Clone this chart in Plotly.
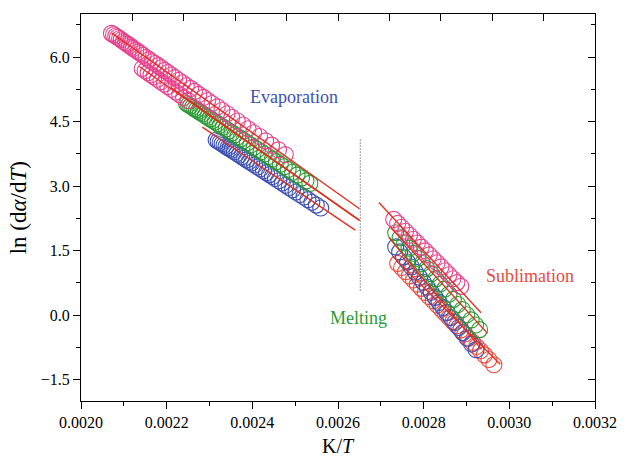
import plotly.graph_objects as go

# ---------------- data (K/T, ln(dα/dT)) ----------------
evap_pink_x = [0.002071, 0.002076, 0.002081, 0.002085, 0.002090, 0.002094, 0.002099, 0.002104,
               0.002108, 0.002113, 0.002118, 0.002122, 0.002128, 0.002134, 0.002139, 0.002145,
               0.002152, 0.002159, 0.002166, 0.002173, 0.002180, 0.002187, 0.002195, 0.002203,
               0.002211, 0.002219, 0.002228, 0.002237, 0.002246, 0.002256, 0.002265, 0.002275,
               0.002286, 0.002296, 0.002306, 0.002318, 0.002329, 0.002341, 0.002352, 0.002365,
               0.002378, 0.002390, 0.002403, 0.002417, 0.002431, 0.002445, 0.002461, 0.002477]
evap_pink_y = [6.55, 6.52, 6.49, 6.46, 6.43, 6.40, 6.36, 6.33, 6.30, 6.27, 6.23, 6.20,
               6.16, 6.12, 6.08, 6.04, 5.99, 5.94, 5.89, 5.85, 5.80, 5.75, 5.69, 5.64,
               5.58, 5.52, 5.46, 5.40, 5.33, 5.27, 5.20, 5.13, 5.06, 4.99, 4.92, 4.84,
               4.76, 4.68, 4.60, 4.51, 4.42, 4.33, 4.24, 4.15, 4.05, 3.95, 3.84, 3.73]

evap_pink2_x = [0.0021428, 0.0021497, 0.0021566, 0.0021635, 0.0021704, 0.0021785, 0.0021866,
                0.0021946, 0.0022027, 0.0022119, 0.0022211, 0.0022303, 0.0022395, 0.0022499]
evap_pink2_y = [5.731, 5.683, 5.635, 5.587, 5.539, 5.483, 5.427, 5.371, 5.315, 5.251,
                5.186, 5.122, 5.058, 4.986]

evap_green_x = [0.0022464, 0.0022510, 0.0022557, 0.0022603, 0.0022649, 0.0022695, 0.0022741,
                0.0022787, 0.0022845, 0.0022902, 0.0022960, 0.0023017, 0.0023075, 0.0023133,
                0.0023190, 0.0023248, 0.0023317, 0.0023386, 0.0023455, 0.0023524, 0.0023593,
                0.0023662, 0.0023731, 0.0023800, 0.0023881, 0.0023962, 0.0024042, 0.0024123,
                0.0024203, 0.0024284, 0.0024376, 0.0024468, 0.0024560, 0.0024653, 0.0024745,
                0.0024837, 0.0024940, 0.0025044, 0.0025148, 0.0025251, 0.0025343]
evap_green_y = [4.919, 4.890, 4.860, 4.830, 4.800, 4.771, 4.741, 4.711, 4.674, 4.637, 4.600,
                4.562, 4.525, 4.488, 4.451, 4.414, 4.369, 4.324, 4.280, 4.235, 4.191, 4.146,
                4.101, 4.057, 4.005, 3.953, 3.901, 3.849, 3.796, 3.744, 3.685, 3.625, 3.566,
                3.506, 3.447, 3.387, 3.320, 3.253, 3.186, 3.119, 3.060]

evap_blue_x = [0.0023155, 0.0023201, 0.0023247, 0.0023293, 0.0023339, 0.0023385, 0.0023432,
               0.0023478, 0.0023524, 0.0023581, 0.0023639, 0.0023696, 0.0023754, 0.0023811,
               0.0023869, 0.0023927, 0.0023984, 0.0024053, 0.0024122, 0.0024191, 0.0024261,
               0.0024330, 0.0024399, 0.0024468, 0.0024537, 0.0024618, 0.0024698, 0.0024779,
               0.0024859, 0.0024940, 0.0025020, 0.0025112, 0.0025205, 0.0025297, 0.0025389,
               0.0025493, 0.0025596]
evap_blue_y = [4.071, 4.041, 4.011, 3.982, 3.952, 3.922, 3.892, 3.862, 3.832, 3.795, 3.758,
               3.720, 3.683, 3.646, 3.608, 3.571, 3.534, 3.489, 3.444, 3.400, 3.355, 3.310,
               3.265, 3.220, 3.176, 3.123, 3.071, 3.019, 2.966, 2.914, 2.862, 2.802, 2.743,
               2.683, 2.623, 2.556, 2.489]

sub_pink_x = [0.0027301, 0.0027393, 0.0027485, 0.0027577, 0.0027669, 0.0027762, 0.0027854,
              0.0027946, 0.0028038, 0.0028130, 0.0028222, 0.0028314, 0.0028406, 0.0028498,
              0.0028591, 0.0028683, 0.0028775, 0.0028867]
sub_pink_y = [2.223, 2.130, 2.040, 1.949, 1.856, 1.763, 1.675, 1.579, 1.491, 1.398, 1.307,
              1.214, 1.119, 1.028, 0.937, 0.842, 0.754, 0.666]

sub_green_x = [0.0027347, 0.0027451, 0.0027555, 0.0027658, 0.0027762, 0.0027865, 0.0027969,
               0.0028073, 0.0028176, 0.0028280, 0.0028384, 0.0028487, 0.0028591, 0.0028695,
               0.0028798, 0.0028902, 0.0029006, 0.0029109, 0.0029213, 0.0029305]
sub_green_y = [1.914, 1.795, 1.676, 1.556, 1.437, 1.318, 1.198, 1.079, 0.960, 0.841, 0.721,
               0.602, 0.483, 0.364, 0.244, 0.125, 0.006, -0.113, -0.233, -0.339]

sub_blue_x = [0.0027347, 0.0027439, 0.0027531, 0.0027623, 0.0027715, 0.0027807, 0.0027899,
              0.0027992, 0.0028084, 0.0028176, 0.0028268, 0.0028360, 0.0028452, 0.0028544,
              0.0028636, 0.0028729, 0.0028821, 0.0028913, 0.0029016, 0.0029120, 0.0029224]
sub_blue_y = [1.584, 1.467, 1.349, 1.232, 1.115, 0.998, 0.880, 0.763, 0.646, 0.529, 0.411,
              0.294, 0.177, 0.060, -0.058, -0.175, -0.292, -0.409, -0.541, -0.673, -0.806]

sub_red_x = [0.0027393, 0.0027485, 0.0027577, 0.0027669, 0.0027762, 0.0027854, 0.0027946,
             0.0028038, 0.0028130, 0.0028222, 0.0028314, 0.0028406, 0.0028498, 0.0028591,
             0.0028683, 0.0028775, 0.0028867, 0.0028959, 0.0029051, 0.0029143, 0.0029235,
             0.0029327, 0.0029419, 0.0029523, 0.0029638]
sub_red_y = [1.200, 1.104, 1.007, 0.910, 0.814, 0.717, 0.620, 0.524, 0.427, 0.330, 0.234,
             0.137, 0.040, -0.057, -0.153, -0.250, -0.347, -0.443, -0.540, -0.637, -0.733,
             -0.830, -0.927, -1.036, -1.157]

# fitted straight lines: (x_start, x_end), (y_start, y_end)
fit_lines = [
    ((0.0020721, 0.0026502), (6.554, 2.472)),
    ((0.0021359, 0.0026502), (5.780, 2.200)),
    ((0.0022096, 0.0026502), (5.292, 2.200)),
    ((0.0022833, 0.0026403), (4.369, 1.974)),
    ((0.0026955, 0.0029339), (2.618, 0.050)),
    ((0.0027232, 0.0029489), (2.037, -0.427)),
    ((0.0027186, 0.0029351), (1.805, -0.799)),
    ((0.0027301, 0.0029788), (1.340, -1.147)),
]

melt_x = [0.002652, 0.002652]
melt_y = [4.08, 0.52]

x_ticks = [0.0020, 0.0022, 0.0024, 0.0026, 0.0028, 0.0030, 0.0032]
y_ticks = [-1.5, 0.0, 1.5, 3.0, 4.5, 6.0]

PINK = "#e8408a"
GREEN = "#2b9a33"
BLUE = "#3d50b4"
RED = "#e84a3c"
LINE_RED = "#e0301e"
FONT = "Liberation Serif, Times New Roman, serif"

fig = go.Figure()

def circles(x, y, color):
    fig.add_trace(go.Scatter(
        x=x, y=y, mode="markers",
        marker=dict(symbol="circle-open", size=16, color=color, line=dict(width=1.1, color=color)),
        hoverinfo="skip"))

circles(evap_blue_x, evap_blue_y, BLUE)
circles(evap_green_x, evap_green_y, GREEN)
circles(evap_pink2_x, evap_pink2_y, PINK)
circles(evap_pink_x, evap_pink_y, PINK)
circles(sub_red_x, sub_red_y, RED)
circles(sub_blue_x, sub_blue_y, BLUE)
circles(sub_green_x, sub_green_y, GREEN)
circles(sub_pink_x, sub_pink_y, PINK)

for xs, ys in fit_lines:
    fig.add_trace(go.Scatter(x=list(xs), y=list(ys), mode="lines",
                             line=dict(color=LINE_RED, width=1.4), hoverinfo="skip"))

fig.add_trace(go.Scatter(x=melt_x, y=melt_y, mode="lines",
                         line=dict(color="#333333", width=1, dash="1px,2px"), hoverinfo="skip"))

# empty trace so that the top / right frame axes are drawn
fig.add_trace(go.Scatter(x=[], y=[], xaxis="x2", yaxis="y2", mode="markers", hoverinfo="skip"))

fig.add_annotation(x=0.0024975, y=5.06, text="Evaporation", showarrow=False,
                   font=dict(family=FONT, size=18, color=BLUE))
fig.add_annotation(x=0.0026483, y=-0.08, text="Melting", showarrow=False,
                   font=dict(family=FONT, size=18, color=GREEN))
fig.add_annotation(x=0.0030475, y=0.905, text="Sublimation", showarrow=False,
                   font=dict(family=FONT, size=18, color=RED))

fig.add_annotation(xref="paper", yref="paper", x=0.5, y=-0.115, text="K/<i>T</i>",
                   showarrow=False, yanchor="middle",
                   font=dict(family=FONT, size=20, color="black"))
fig.add_annotation(xref="paper", yref="paper", x=-0.121, y=0.5, text="ln (d<i>α</i>/d<i>T</i>)",
                   showarrow=False, textangle=-90, xanchor="center", yanchor="middle",
                   font=dict(family=FONT, size=23, color="black"))

fig.update_layout(
    width=629, height=457,
    margin=dict(l=81, r=27, t=14, b=56),
    paper_bgcolor="white", plot_bgcolor="white",
    showlegend=False,
    font=dict(family=FONT, size=16, color="black"),
    xaxis=dict(range=[0.0020, 0.0032], tickvals=x_ticks, tickformat=".4f",
               ticks="outside", ticklen=7, tickwidth=1, tickcolor="black",
               minor=dict(dtick=0.0001, tick0=0.002, ticks="outside", ticklen=4, tickcolor="black"),
               showline=True, linecolor="black", linewidth=1.2, showgrid=False, zeroline=False,
               tickfont=dict(family=FONT, size=16)),
    yaxis=dict(range=[-2.0, 7.0], tickvals=y_ticks, tickformat=".1f",
               ticks="outside", ticklen=7, tickwidth=1, tickcolor="black",
               minor=dict(dtick=0.75, tick0=0, ticks="outside", ticklen=4, tickcolor="black"),
               showline=True, linecolor="black", linewidth=1.2, showgrid=False, zeroline=False,
               tickfont=dict(family=FONT, size=16)),
    xaxis2=dict(overlaying="x", side="top", range=[0, 10], dtick=1, tick0=0, ticks="inside",
                ticklen=7, tickcolor="black", showticklabels=False, showline=True,
                linecolor="black", linewidth=1.2, showgrid=False, zeroline=False),
    yaxis2=dict(overlaying="y", side="right", range=[-2.0, 7.0], dtick=1.5, tick0=0,
                ticks="inside", ticklen=7, tickcolor="black", showticklabels=False,
                minor=dict(dtick=0.75, tick0=0, ticks="inside", ticklen=4, tickcolor="black"),
                showline=True, linecolor="black", linewidth=1.2, showgrid=False, zeroline=False),
)

fig.write_html("out.html")
